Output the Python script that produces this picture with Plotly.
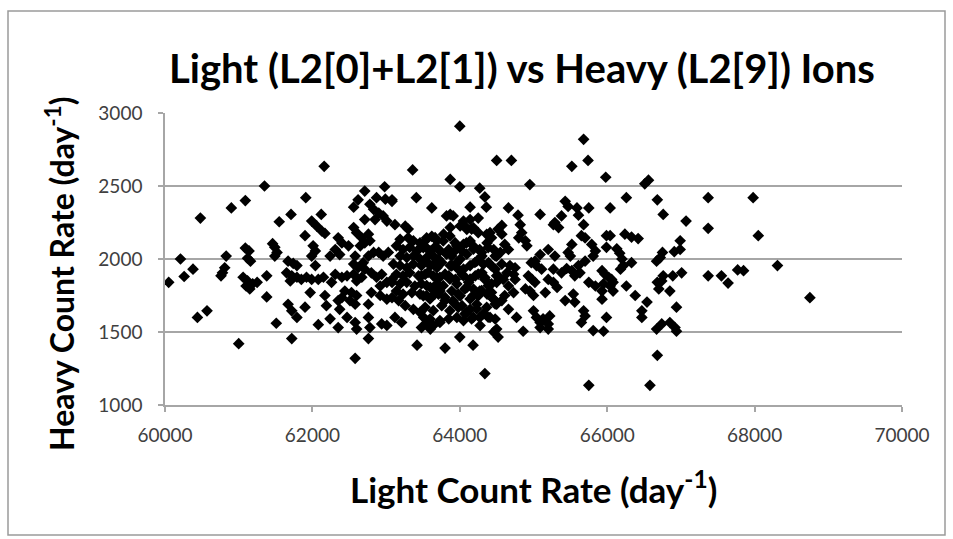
import plotly.graph_objects as go

# Light (x) and Heavy (y) count rates (day^-1)
light_left = [61350, 61090, 60900, 60480, 61550, 61460, 61490, 61520, 61490, 61090, 61140, 61160, 61120,
              60210, 60830, 60380, 60810, 60780, 60760, 60050, 60260, 61060, 61120, 61190, 61150, 61250,
              61100, 61380, 61380, 60570, 60440, 61510, 61000]
heavy_left = [2500, 2400, 2350, 2280, 2255, 2105, 2080, 2045, 2020, 2075, 2055, 1985, 2005,
              2000, 2020, 1930, 1940, 1905, 1885, 1840, 1880, 1875, 1850, 1830, 1795, 1840,
              1815, 1885, 1740, 1645, 1600, 1560, 1420]

light_62k = [62160, 62980, 62710, 62870, 62990, 63080, 61910, 62620, 62560, 62780, 62830, 62900, 62960,
             63010, 62850, 61710, 62120, 61990, 62060, 62130, 62170, 61900, 62710, 62560, 62600, 62670,
             62710, 62650, 62760, 62780, 62350, 62400, 62310, 62240, 62370, 62490, 62010, 62040, 61990,
             62040, 61670, 61740, 61790, 61650, 61720, 61790, 61850, 61920, 61990, 62080, 62150, 61700,
             62310, 62260, 62400, 62470, 62580, 62560, 62620, 62690, 62710, 62760, 62830, 62900, 62960,
             63030, 62560, 62600, 62670, 62800, 62870, 62940, 63010, 63080, 62920, 62440, 62530, 62400,
             62510, 62600, 61970, 62170, 62190, 62800, 62760, 62920, 63010, 61670, 61720, 61790, 61900,
             62350, 62370, 62580, 62240, 62350, 62470, 62580, 62600, 62080, 62760, 62780, 62940, 63010,
             61720, 62760, 62580]
heavy_62k = [2635, 2495, 2465, 2420, 2410, 2395, 2420, 2405, 2355, 2375, 2340, 2315, 2295,
             2260, 2270, 2305, 2305, 2260, 2225, 2190, 2175, 2160, 2270, 2215, 2180, 2145,
             2110, 2090, 2170, 2125, 2145, 2110, 2065, 2020, 2030, 2090, 2090, 2055, 2020,
             1955, 1985, 1970, 1955, 1905, 1885, 1875, 1860, 1875, 1860, 1860, 1875, 1850,
             1895, 1840, 1875, 1885, 2020, 1965, 1940, 1975, 1930, 2020, 2045, 2045, 2020,
             2045, 1895, 1850, 1875, 1905, 1875, 1895, 1840, 1860, 1815, 1780, 1770, 1735,
             1715, 1750, 1770, 1750, 1680, 1770, 1690, 1750, 1725, 1690, 1645, 1600, 1670,
             1715, 1655, 1690, 1590, 1530, 1600, 1565, 1520, 1550, 1600, 1530, 1555, 1545,
             1455, 1455, 1320]

light_64k = [64000, 63360, 63870, 64000, 64270, 64340, 64360, 63410, 63080, 63620, 64140, 63870, 63820,
             63910, 64050, 64140, 64250, 64090, 64160, 63870, 63780, 63120, 63260, 63300,
             63190, 63300, 63370, 63460, 63550, 63620, 63690, 63140, 63230, 63320, 63420, 63510, 63570,
             63660, 63730, 63190, 63280, 63370, 63460, 63550, 63640, 63710, 63100, 63190, 63280, 63370,
             63480, 63600, 63690, 63140, 63230, 63320, 63440, 63530, 63640, 63730, 63080, 63190, 63280,
             63390, 63480, 63600, 63690, 63140, 63230, 63350, 63460, 63550, 63660, 63730,
             63850, 63890, 63960, 64030, 64090, 64180, 64270, 63870, 63960, 64050, 64140, 64230, 64300,
             63850, 63940, 64030, 64120, 64210, 64300, 63890, 63980, 64070, 64180, 64270, 63800, 63910,
             64030, 64140, 64230,
             64410, 64370, 64460, 64390, 64480, 64340, 64430, 64370, 64460, 64320, 64410,
             63080, 63170, 63260, 63370, 63460, 63120, 63210, 63510, 63550, 63600, 63640, 63480, 63730,
             63850, 63960, 64070, 64160, 64270,
             63420, 63800, 64000, 64180, 64460, 64340]
heavy_64k = [2910, 2610, 2545, 2495, 2485, 2425, 2355, 2420, 2405, 2350, 2355, 2305, 2295,
             2295, 2260, 2270, 2280, 2215, 2205, 2215, 2170, 2235, 2225, 2205,
             2135, 2145, 2125, 2110, 2145, 2155, 2125, 2090, 2065, 2080, 2055, 2090, 2065,
             2080, 2055, 2020, 2010, 2020, 2000, 2010, 2020, 2000, 1965, 1955, 1940, 1965,
             1955, 1955, 1940, 1895, 1885, 1905, 1885, 1895, 1885, 1875, 1840, 1830, 1840,
             1815, 1830, 1805, 1830, 1780, 1760, 1770, 1760, 1750, 1760, 1780,
             2065, 2020, 2090, 2055, 2110, 2090, 2065, 1955, 1975, 1930, 1955, 1985, 2020,
             1885, 1860, 1895, 1840, 1885, 1905, 1780, 1760, 1795, 1750, 1780, 1715, 1705,
             1680, 1655, 1690,
             2180, 2110, 2065, 1975, 1930, 1860, 1830, 1760, 1725, 1625, 1600,
             1735, 1715, 1680, 1655, 1635, 1600, 1565, 1600, 1565, 1520, 1545, 1530, 1565,
             1590, 1600, 1625, 1590, 1600,
             1410, 1390, 1465, 1410, 1500, 1215]

# extra points read from a closer look at the densest part of the cloud
light_dense = [64005, 64095, 64185, 64250, 64365, 64430,
               63550, 63665, 63775, 63865, 63935, 64050, 64140,
               63505, 63595, 63710, 63820, 63910, 64005, 64095, 64185, 64295, 64385, 64480,
               63530, 63640, 63755, 63890, 63980, 64205, 64320, 64430,
               63480, 63570, 63685, 63800, 63865, 64050, 64140, 64250, 64340, 64385, 64500,
               63550, 63640, 63775, 63960, 64095, 64185, 64295, 64430,
               63505, 63595, 63710, 63800, 63910, 64005, 64140, 64250, 64455,
               63530, 63640, 63755, 63865, 63980, 64095, 64230, 64365, 64480,
               63595, 63730, 64050, 64185, 64275, 64385, 64480]
heavy_dense = [2226, 2203, 2214, 2180, 2169, 2146,
               2135, 2146, 2124, 2158, 2112, 2101, 2124,
               2078, 2055, 2067, 2033, 2044, 1999, 2033, 2067, 2044, 2078, 2021,
               1987, 1964, 1976, 1953, 1930, 1976, 1964, 1953,
               1885, 1908, 1873, 1896, 1862, 1885, 1862, 1896, 1873, 1817, 1885,
               1817, 1794, 1817, 1828, 1805, 1794, 1783, 1771,
               1748, 1726, 1760, 1737, 1714, 1748, 1726, 1748, 1726,
               1669, 1646, 1680, 1646, 1669, 1635, 1658, 1669, 1692,
               1589, 1578, 1578, 1601, 1544, 1601, 1589]

light_65k = [65680, 64500, 64700, 65520, 65740, 64950, 64660, 64790, 65090, 65430, 65470, 65590, 65610,
             65750, 65380, 65290, 65340, 65270, 65680, 65650, 65700, 64820, 64840, 64800, 64570, 64520,
             64570, 64890, 64910, 65520, 65470, 65500, 65790, 65840, 65810, 65200, 65090, 65020, 64970,
             65040, 65110, 65290, 64610, 64660, 64550, 64500, 64570, 64680, 64750, 64640, 64730, 64520,
             64590, 64750, 64500, 65270, 65380, 65450, 65520, 65610, 65560, 65630, 65700, 64930, 64980,
             65020, 65200, 65270, 65320, 65750, 65840, 64890, 64950, 64660, 64610, 64730, 65000, 65160,
             65430, 65540, 65560, 64500, 64570, 64660, 64770, 65000, 65040, 65090, 65130, 65220, 65200,
             65200, 65680, 65700, 65650, 64500, 64520, 64860, 65090, 65810, 65750]
heavy_65k = [2820, 2675, 2675, 2635, 2675, 2510, 2350, 2300, 2305, 2395, 2360, 2350, 2300,
             2350, 2295, 2250, 2215, 2235, 2235, 2160, 2145, 2235, 2180, 2145, 2230, 2205,
             2170, 2125, 2090, 2100, 2045, 2020, 2100, 2055, 2020, 2065, 2030, 1985, 1975,
             1955, 1930, 2020, 2100, 2065, 2045, 2020, 1965, 1955, 1940, 1905, 1895, 1885,
             1860, 1860, 1840, 1930, 1905, 1935, 1920, 1955, 1885, 1905, 1985, 1885, 1860,
             1840, 1860, 1840, 1805, 1840, 1815, 1795, 1780, 1815, 1750, 1770, 1750, 1770,
             1715, 1760, 1705, 1690, 1715, 1655, 1600, 1645, 1600, 1565, 1590, 1610, 1555,
             1520, 1645, 1610, 1565, 1520, 1465, 1505, 1530, 1510, 1135]

light_66k = [65980, 66510, 66560, 66260, 66040, 66680, 66760, 67070, 65990, 66040, 66240, 66330, 66420,
             65990, 66130, 66170, 66200, 66220, 66180, 66330, 66990, 66990, 66910, 66750, 66720, 66670,
             67010, 66890, 66760, 66740, 66680, 66700, 66850, 65930, 65970, 66020, 66060, 66080, 65950,
             66040, 66080, 65930, 66260, 66380, 66540, 66470, 66470, 65930, 65990, 66940, 65950, 66670,
             66740, 66850, 66920, 66940, 66680, 66580]
heavy_66k = [2560, 2515, 2540, 2420, 2350, 2405, 2305, 2260, 2160, 2160, 2170, 2150, 2140,
             2080, 2070, 2040, 2000, 1955, 1930, 1975, 2125, 2065, 2050, 2045, 2010, 1985,
             1905, 1885, 1885, 1850, 1840, 1795, 1780, 1920, 1895, 1875, 1860, 1840, 1830,
             1815, 1780, 1780, 1815, 1750, 1705, 1645, 1600, 1725, 1600, 1670, 1505, 1520,
             1555, 1565, 1530, 1505, 1340, 1135]

light_right = [67370, 67980, 68050, 67370, 67370, 67550, 67640, 67770, 67850, 68310, 68750]
heavy_right = [2420, 2420, 2160, 2210, 1885, 1885, 1835, 1925, 1920, 1955, 1735]

light_rate = light_left + light_62k + light_64k + light_dense + light_65k + light_66k + light_right
heavy_rate = heavy_left + heavy_62k + heavy_64k + heavy_dense + heavy_65k + heavy_66k + heavy_right

x_ticks = [60000, 62000, 64000, 66000, 68000, 70000]
y_ticks = [1000, 1500, 2000, 2500, 3000]

title_text = "Light (L2[0]+L2[1]) vs Heavy (L2[9]) Ions"
x_title = "Light Count Rate (day<sup>-1</sup>)"
y_title = "Heavy Count Rate (day<sup>-1</sup>)"

FONT = "Lato"
W, H = 953, 539
L, R, T, B = 165, 51, 113, 134
pw, ph = W - L - R, H - T - B

def px(xp):
    return (xp - L) / pw

def py(yp):
    return (H - B - yp) / ph

fig = go.Figure()
fig.add_trace(go.Scatter(
    x=light_rate, y=heavy_rate, mode="markers",
    marker=dict(symbol="diamond", size=9, color="black", line=dict(width=0)),
    showlegend=False, hoverinfo="x+y",
))

grid_col = "#a6a6a6"
fig.update_xaxes(
    range=[60000, 70000], tickvals=x_ticks, ticktext=[str(v) for v in x_ticks],
    showgrid=False, zeroline=False, showline=True, linecolor=grid_col, linewidth=1.5,
    ticks="outside", ticklen=5, tickcolor=grid_col, tickwidth=1.5,
    tickfont=dict(family=FONT, size=19, color="#404040"), ticklabelstandoff=7,
)
fig.update_yaxes(
    range=[1000, 3000], tickvals=y_ticks, ticktext=[str(v) for v in y_ticks],
    showgrid=True, gridcolor=grid_col, gridwidth=1.5, zeroline=False,
    showline=True, linecolor=grid_col, linewidth=1.5,
    ticks="outside", ticklen=5, tickcolor=grid_col, tickwidth=1.5,
    tickfont=dict(family=FONT, size=19, color="#404040"), ticklabelstandoff=12,
)

fig.update_layout(
    width=W, height=H, margin=dict(l=L, r=R, t=T, b=B, pad=0),
    paper_bgcolor="white", plot_bgcolor="white",
    font=dict(family=FONT, color="#000000"),
    annotations=[
        dict(text="<b>" + title_text + "</b>", xref="paper", yref="paper",
             x=px(522), y=py(68), xanchor="center", yanchor="middle", showarrow=False,
             font=dict(family=FONT, size=40, color="black")),
        dict(text="<b>" + x_title + "</b>", xref="paper", yref="paper",
             x=px(533), y=py(487), xanchor="center", yanchor="middle", showarrow=False,
             font=dict(family=FONT, size=35, color="black")),
        dict(text="<b>" + y_title + "</b>", xref="paper", yref="paper",
             x=px(60), y=py(274), xanchor="center", yanchor="middle", showarrow=False,
             textangle=-90, font=dict(family=FONT, size=32, color="black")),
    ],
    shapes=[
        dict(type="rect", xref="paper", yref="paper",
             x0=px(8), x1=px(945), y0=py(535), y1=py(11),
             line=dict(color="#9a9a9a", width=1.5), fillcolor="rgba(0,0,0,0)", layer="below"),
    ],
)

fig.write_html("out.html")
